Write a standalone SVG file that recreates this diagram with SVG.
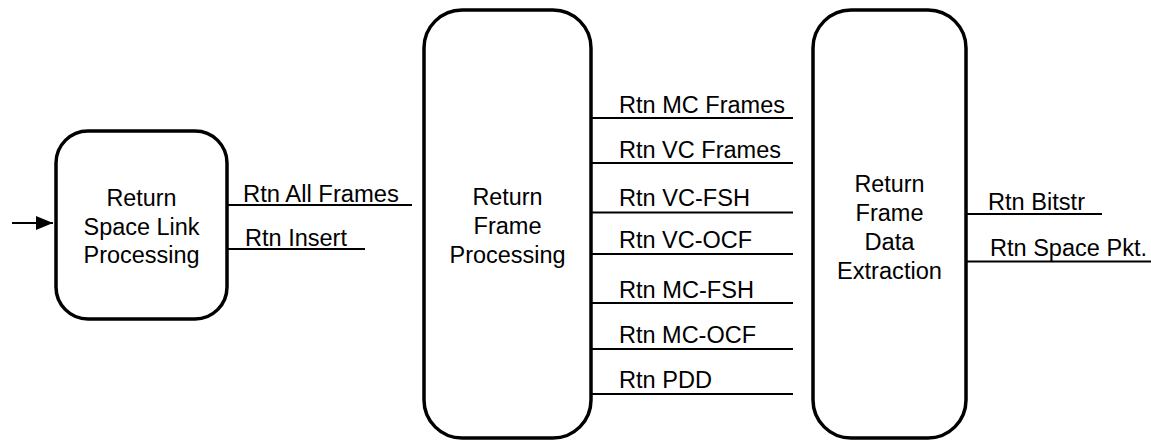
<svg xmlns="http://www.w3.org/2000/svg" width="1151" height="442" viewBox="0 0 1151 442">
<style>
.box{fill:#fff;stroke:#000;stroke-width:3.5}
.ln{stroke:#000;stroke-width:2;fill:none}
text{font-family:"Liberation Sans",Arial,sans-serif;font-size:23px;fill:#000}
.c{text-anchor:middle}
</style>
<defs>
<marker id="ah" markerWidth="17" markerHeight="14" refX="17" refY="7" orient="auto" markerUnits="userSpaceOnUse">
<path d="M0,0 L17,7 L0,14 Z" fill="#000"/>
</marker>
</defs>
<rect width="1151" height="442" fill="#fff"/>
<g id="connectors">
<line class="ln" x1="12" y1="223" x2="53" y2="223" marker-end="url(#ah)"/>
<line class="ln" x1="225" y1="205" x2="412" y2="205"/>
<line class="ln" x1="225" y1="249" x2="365" y2="249"/>
<line class="ln" x1="588" y1="118" x2="793" y2="118"/>
<line class="ln" x1="588" y1="163" x2="793" y2="163"/>
<line class="ln" x1="588" y1="212.5" x2="793" y2="212.5"/>
<line class="ln" x1="588" y1="254" x2="793" y2="254"/>
<line class="ln" x1="588" y1="303" x2="793" y2="303"/>
<line class="ln" x1="588" y1="349" x2="793" y2="349"/>
<line class="ln" x1="588" y1="394" x2="793" y2="394"/>
<line class="ln" x1="965" y1="214" x2="1102" y2="214"/>
<line class="ln" x1="965" y1="261.5" x2="1151" y2="261.5"/>
<text x="243" y="202" textLength="156" lengthAdjust="spacingAndGlyphs">Rtn All Frames</text>
<text x="245" y="246" textLength="102" lengthAdjust="spacingAndGlyphs">Rtn Insert</text>
<text x="619" y="113" textLength="166" lengthAdjust="spacingAndGlyphs">Rtn MC Frames</text>
<text x="619" y="158" textLength="162" lengthAdjust="spacingAndGlyphs">Rtn VC Frames</text>
<text x="619" y="205.5" textLength="131" lengthAdjust="spacingAndGlyphs">Rtn VC-FSH</text>
<text x="619" y="247.5" textLength="133" lengthAdjust="spacingAndGlyphs">Rtn VC-OCF</text>
<text x="619" y="298" textLength="135" lengthAdjust="spacingAndGlyphs">Rtn MC-FSH</text>
<text x="619" y="343" textLength="137" lengthAdjust="spacingAndGlyphs">Rtn MC-OCF</text>
<text x="619" y="387.5" textLength="93" lengthAdjust="spacingAndGlyphs">Rtn PDD</text>
<text x="988" y="209.5" textLength="97" lengthAdjust="spacingAndGlyphs">Rtn Bitstr</text>
<text x="990" y="255.5" textLength="157" lengthAdjust="spacingAndGlyphs">Rtn Space Pkt.</text>
</g>
<g id="node-space-link">
<rect class="box" x="56" y="131" width="171" height="188" rx="32" ry="32"/>
<text class="c" x="141.5" y="206" textLength="70" lengthAdjust="spacingAndGlyphs">Return</text>
<text class="c" x="141.5" y="235" textLength="116" lengthAdjust="spacingAndGlyphs">Space Link</text>
<text class="c" x="141.5" y="263" textLength="116" lengthAdjust="spacingAndGlyphs">Processing</text>
</g>
<g id="node-frame-processing">
<rect class="box" x="424" y="10" width="167" height="428" rx="38" ry="38"/>
<text class="c" x="507.5" y="205" textLength="70" lengthAdjust="spacingAndGlyphs">Return</text>
<text class="c" x="507.5" y="234" textLength="68" lengthAdjust="spacingAndGlyphs">Frame</text>
<text class="c" x="507.5" y="263" textLength="116" lengthAdjust="spacingAndGlyphs">Processing</text>
</g>
<g id="node-data-extraction">
<rect class="box" x="813" y="10" width="153" height="428" rx="38" ry="38"/>
<text class="c" x="889.5" y="191.5" textLength="70" lengthAdjust="spacingAndGlyphs">Return</text>
<text class="c" x="889.5" y="220.5" textLength="68" lengthAdjust="spacingAndGlyphs">Frame</text>
<text class="c" x="889.5" y="249.5" textLength="50" lengthAdjust="spacingAndGlyphs">Data</text>
<text class="c" x="889.5" y="278.5" textLength="105" lengthAdjust="spacingAndGlyphs">Extraction</text>
</g>
</svg>
